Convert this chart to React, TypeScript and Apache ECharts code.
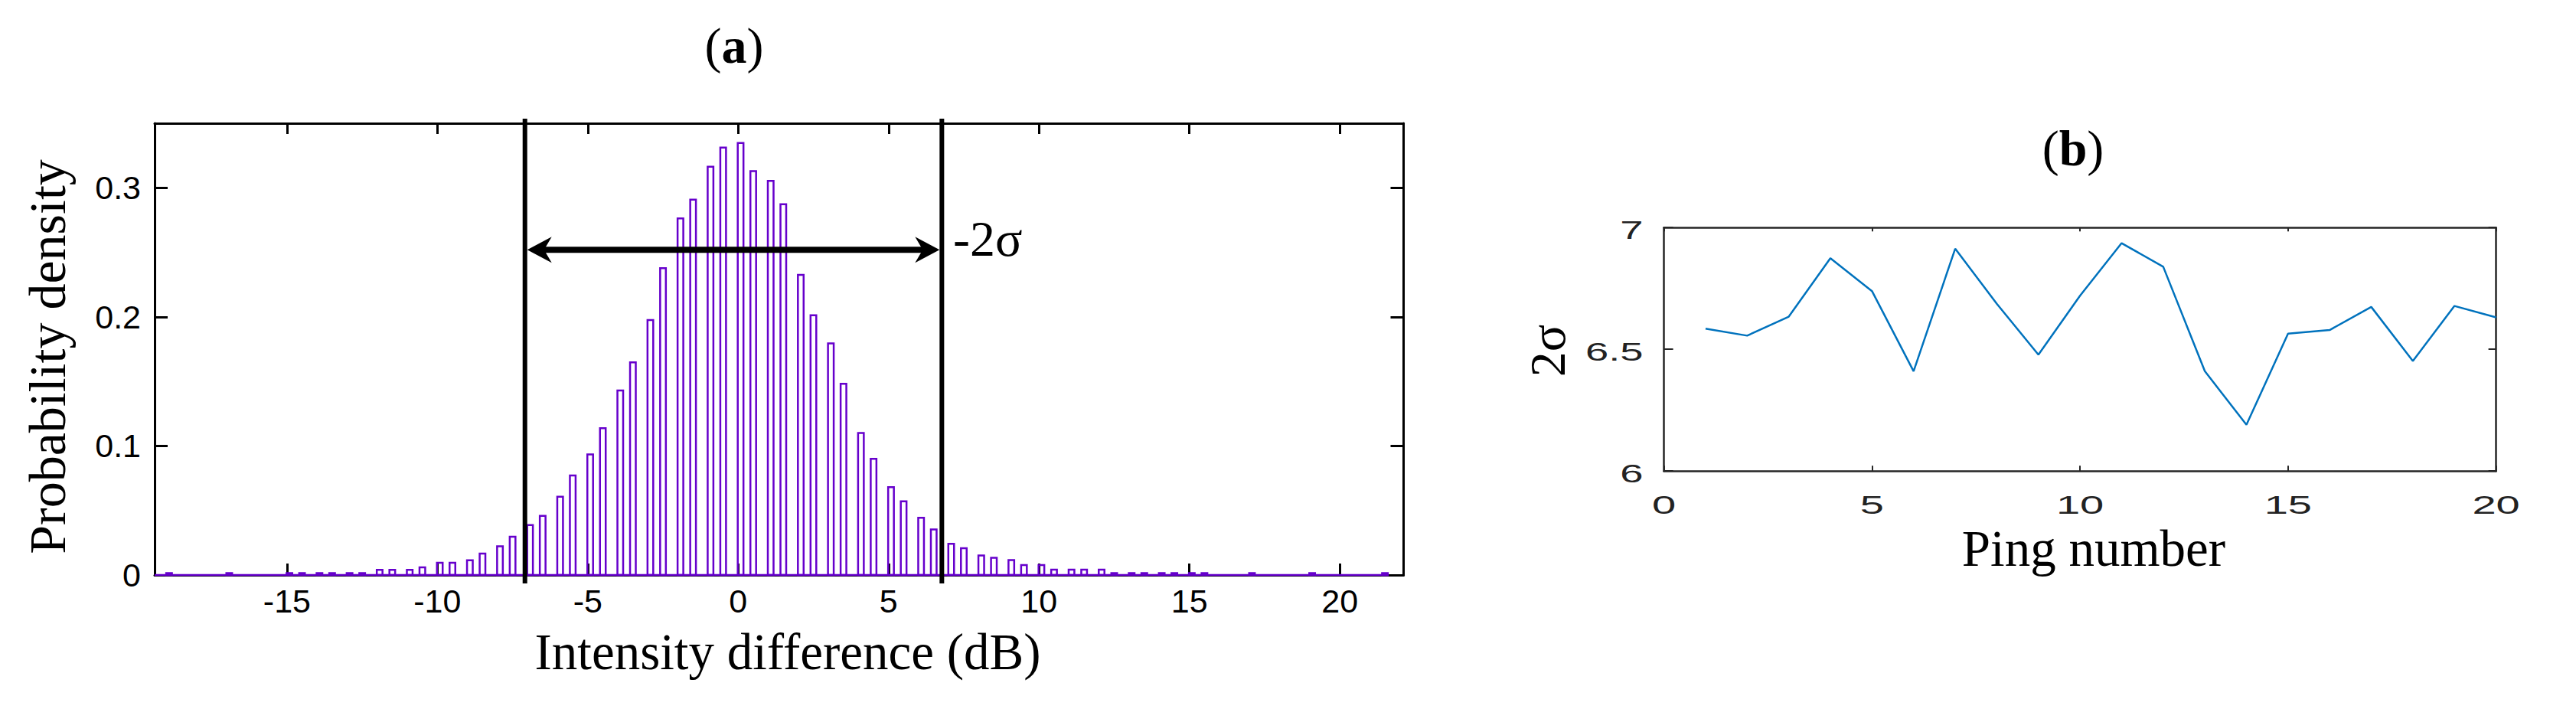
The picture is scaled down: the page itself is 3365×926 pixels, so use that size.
import React, { useEffect, useRef } from 'react';
import * as echarts from 'echarts';

// ---------- Panel (a): histogram of intensity differences ----------
const binCenters = [
  -18.92, -16.92, -14.92, -14.5, -13.92, -13.5, -12.92, -12.5, -11.92, -11.5,
  -10.92, -10.5, -9.92, -9.5, -8.92, -8.5, -7.92, -7.5, -6.92, -6.5,
  -5.92, -5.5, -4.92, -4.5, -3.92, -3.5, -2.92, -2.5, -1.92, -1.5,
  -0.92, -0.5, 0.08, 0.5, 1.08, 1.5, 2.08, 2.5, 3.08, 3.5,
  4.08, 4.5, 5.08, 5.5, 6.08, 6.5, 7.08, 7.5, 8.08, 8.5,
  9.08, 9.5, 10.08, 10.5, 11.08, 11.5, 12.08, 12.5, 13.08, 13.5,
  14.08, 14.5, 15.08, 15.5, 17.08, 19.08, 21.5,
];
const density = [
  0.0015, 0.0015, 0.0015, 0.0015, 0.0015, 0.0015, 0.0015, 0.0015, 0.004, 0.004,
  0.004, 0.006, 0.0095, 0.0095, 0.0114, 0.0166, 0.0223, 0.0296, 0.0387, 0.0459,
  0.0607, 0.0771, 0.0935, 0.1137, 0.143, 0.1648, 0.1976, 0.2378, 0.2763, 0.2908,
  0.3163, 0.3311, 0.3347, 0.3129, 0.3054, 0.2872, 0.2326, 0.2012, 0.1794, 0.1482,
  0.11, 0.09, 0.068, 0.0571, 0.0443, 0.0353, 0.0242, 0.0208, 0.0151, 0.0133,
  0.0115, 0.0077, 0.0077, 0.0042, 0.0042, 0.0042, 0.0042, 0.0015, 0.0015, 0.0015,
  0.0015, 0.0015, 0.0015, 0.0015, 0.0015, 0.0015, 0.0015,
];
const xRangeA = [-19.4, 22.12];
const yRangeA = [0, 0.35];
const xTicksA = [-15, -10, -5, 0, 5, 10, 15, 20];
const yTicksA = [0, 0.1, 0.2, 0.3];
const histExtent = [-19.4, 21.62];
const sigmaBounds = [-7.09, 6.77];
const arrowLevel = 0.252;
const HALF_BIN = 0.095;

// ---------- Panel (b): 2 sigma per ping ----------
const pingNumbers = [1, 2, 3, 4, 5, 6, 7, 8, 9, 10, 11, 12, 13, 14, 15, 16, 17, 18, 19, 20];
const twoSigma = [
  6.585, 6.556, 6.634, 6.874, 6.739, 6.41, 6.913, 6.687, 6.478, 6.72,
  6.936, 6.839, 6.41, 6.19, 6.564, 6.579, 6.674, 6.452, 6.678, 6.631,
];
const xRangeB = [0, 20];
const yRangeB = [6, 7];
const xTicksB = [0, 5, 10, 15, 20];
const yTicksB = [6, 6.5, 7];

const PURPLE = '#6600cc';
const SERIF = '"Liberation Serif", "Times New Roman", serif';
const SANS = '"Liberation Sans", Arial, sans-serif';
const GREY = '#262626';

function axisA(type: 'x' | 'y', position: string, showLabel: boolean, values: number[], range: number[], len: number) {
  return {
    type: 'value',
    gridIndex: 0,
    position,
    min: range[0],
    max: range[1],
    axisLine: { show: true, onZero: false, lineStyle: { color: '#000', width: 3 } },
    axisTick: { show: true, inside: true, length: len, customValues: values, lineStyle: { color: '#000', width: 3 } },
    axisLabel: {
      show: showLabel,
      customValues: values,
      fontFamily: SANS,
      fontSize: 43,
      color: '#000',
      margin: type === 'x' ? 12 : 18,
    },
    splitLine: { show: false },
  };
}

function axisB(position: string, range: number[], values: number[], len: number) {
  return {
    type: 'value',
    gridIndex: 1,
    position,
    min: range[0],
    max: range[1],
    axisLine: { show: true, onZero: false, lineStyle: { color: GREY, width: 2.5 } },
    axisTick: { show: true, inside: true, length: len, customValues: values, lineStyle: { color: GREY, width: 2 } },
    axisLabel: { show: false },
    splitLine: { show: false },
  };
}

export default function App() {
  const ref = useRef<HTMLDivElement>(null);

  useEffect(() => {
    if (!ref.current) return;
    const chart = echarts.init(ref.current, null, { renderer: 'svg' });

    const option: any = {
      animation: false,
      backgroundColor: '#fff',
      grid: [
        { left: 202, top: 161, width: 1631.5, height: 590 },
        { left: 2173.6, top: 297.2, width: 1087, height: 318 },
      ],
      xAxis: [
        axisA('x', 'bottom', true, xTicksA, xRangeA, 15),
        axisA('x', 'top', false, xTicksA, xRangeA, 14),
        axisB('bottom', xRangeB, xTicksB, 7),
        axisB('top', xRangeB, xTicksB, 5),
      ],
      yAxis: [
        axisA('y', 'left', true, yTicksA, yRangeA, 17),
        axisA('y', 'right', false, yTicksA, yRangeA, 17),
        axisB('left', yRangeB, yTicksB, 12),
        axisB('right', yRangeB, yTicksB, 10),
      ],
      series: [
        {
          type: 'custom',
          xAxisIndex: 0,
          yAxisIndex: 0,
          z: 3,
          silent: true,
          data: binCenters.map((c, i) => [c, density[i]]),
          renderItem: (_p: any, api: any) => {
            const c = api.value(0);
            const h = api.value(1);
            const a = api.coord([c - HALF_BIN, h]);
            const b = api.coord([c + HALF_BIN, 0]);
            return {
              type: 'rect',
              shape: { x: a[0], y: a[1], width: b[0] - a[0], height: b[1] - a[1] },
              style: { fill: 'none', stroke: PURPLE, lineWidth: 2.5 },
            };
          },
        },
        {
          type: 'line',
          xAxisIndex: 0,
          yAxisIndex: 0,
          z: 3,
          clip: false,
          silent: true,
          symbol: 'none',
          data: [[histExtent[0], 0], [histExtent[1], 0]],
          lineStyle: { color: PURPLE, width: 2.5 },
        },
        {
          type: 'custom',
          xAxisIndex: 0,
          yAxisIndex: 0,
          z: 5,
          silent: true,
          data: sigmaBounds.map((x) => [x, 0]),
          renderItem: (_p: any, api: any) => {
            const x = api.value(0);
            const top = api.coord([x, yRangeA[1]]);
            const bot = api.coord([x, 0]);
            return {
              type: 'line',
              shape: { x1: top[0], y1: top[1] - 6, x2: bot[0], y2: bot[1] + 11 },
              style: { stroke: '#000', lineWidth: 6 },
            };
          },
        },
        {
          type: 'custom',
          xAxisIndex: 0,
          yAxisIndex: 0,
          z: 6,
          silent: true,
          data: [[sigmaBounds[0], arrowLevel, sigmaBounds[1]]],
          renderItem: (_p: any, api: any) => {
            const l = api.coord([api.value(0), api.value(1)]);
            const r = api.coord([api.value(2), api.value(1)]);
            const y = l[1];
            const lx = l[0] + 3;
            const rx = r[0] - 3;
            return {
              type: 'group',
              children: [
                {
                  type: 'line',
                  shape: { x1: lx + 18, y1: y, x2: rx - 18, y2: y },
                  style: { stroke: '#000', lineWidth: 8 },
                },
                {
                  type: 'polygon',
                  shape: { points: [[lx, y], [lx + 32, y - 17], [lx + 22, y], [lx + 32, y + 17]] },
                  style: { fill: '#000' },
                },
                {
                  type: 'polygon',
                  shape: { points: [[rx, y], [rx - 32, y - 17], [rx - 22, y], [rx - 32, y + 17]] },
                  style: { fill: '#000' },
                },
              ],
            };
          },
        },
        {
          type: 'line',
          xAxisIndex: 2,
          yAxisIndex: 2,
          silent: true,
          symbol: 'none',
          data: pingNumbers.map((p, i) => [p, twoSigma[i]]),
          lineStyle: { color: '#0072BD', width: 2.5 },
        },
      ],
    };

    chart.setOption(option);

    const graphics: any[] = [
      {
        type: 'text',
        x: 959,
        y: 59,
        style: {
          text: '({b|a})',
          font: `66px ${SERIF}`,
          fill: '#000',
          align: 'center',
          verticalAlign: 'middle',
          rich: { b: { fontWeight: 'bold', fontSize: 66, fontFamily: SERIF } },
        },
      },
      {
        type: 'text',
        x: 2708,
        y: 193,
        style: {
          text: '({b|b})',
          font: `66px ${SERIF}`,
          fill: '#000',
          align: 'center',
          verticalAlign: 'middle',
          rich: { b: { fontWeight: 'bold', fontSize: 66, fontFamily: SERIF } },
        },
      },
      {
        type: 'text',
        x: 62,
        y: 466,
        rotation: Math.PI / 2,
        style: { text: 'Probability density', font: `68px ${SERIF}`, fill: '#000', align: 'center', verticalAlign: 'middle' },
      },
      {
        type: 'text',
        x: 1029,
        y: 851,
        style: { text: 'Intensity difference (dB)', font: `67px ${SERIF}`, fill: '#000', align: 'center', verticalAlign: 'middle' },
      },
      {
        type: 'text',
        x: 1245,
        y: 311,
        style: { text: '-2σ', font: `66px ${SERIF}`, fill: '#000', align: 'left', verticalAlign: 'middle' },
      },
      {
        type: 'text',
        x: 2021,
        y: 458,
        rotation: Math.PI / 2,
        style: { text: '2σ', font: `66px ${SERIF}`, fill: '#000', align: 'center', verticalAlign: 'middle' },
      },
      {
        type: 'text',
        x: 2735,
        y: 716,
        style: { text: 'Ping number', font: `67px ${SERIF}`, fill: '#000', align: 'center', verticalAlign: 'middle' },
      },
    ];

    const bottomB = 297.2 + 318;
    const leftB = 2173.6;
    xTicksB.forEach((v) => {
      const px = chart.convertToPixel({ xAxisIndex: 2 }, v) as number;
      graphics.push({
        type: 'text',
        x: px,
        y: bottomB + 44,
        scaleX: 1.7,
        style: { text: String(v), font: `33px ${SANS}`, fill: '#222', align: 'center', verticalAlign: 'middle' },
      });
    });
    yTicksB.forEach((v) => {
      const py = chart.convertToPixel({ yAxisIndex: 2 }, v) as number;
      graphics.push({
        type: 'text',
        x: leftB - 27,
        y: py + 3,
        scaleX: 1.65,
        style: { text: String(v), font: `33px ${SANS}`, fill: '#222', align: 'right', verticalAlign: 'middle' },
      });
    });

    chart.setOption({ graphic: graphics });

    return () => chart.dispose();
  }, []);

  return (
    <div
      ref={ref}
      style={{ position: 'absolute', left: 0, top: 0, width: 3365, height: 926, background: '#fff' }}
    />
  );
}
